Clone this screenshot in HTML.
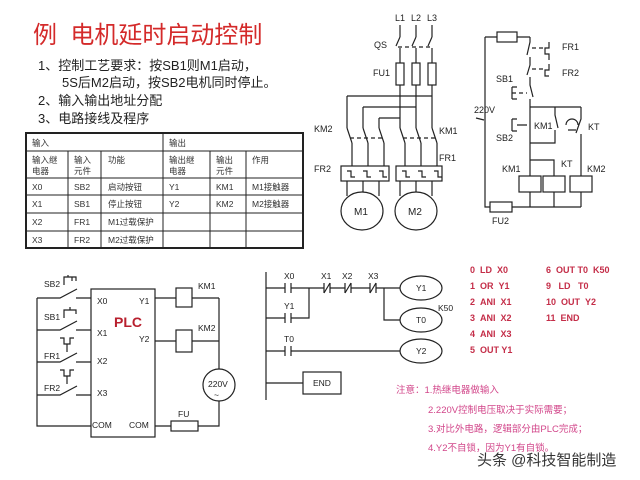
<!DOCTYPE html>
<html><head><meta charset="utf-8"><style>
html,body{margin:0;padding:0;background:#fff;}
svg{display:block;font-family:"Liberation Sans","Noto Sans CJK SC",sans-serif;}
</style></head><body>
<svg width="640" height="480" viewBox="0 0 640 480" xmlns="http://www.w3.org/2000/svg">
<g fill="#222">
<text x="33" y="43" font-size="24" fill="#d42a2a" font-family="Liberation Sans,Noto Sans CJK SC,sans-serif">例 &#160;电机延时启动控制</text>
<text x="38" y="70" font-size="13">1、控制工艺要求：按SB1则M1启动，</text>
<text x="62" y="87" font-size="13">5S后M2启动，按SB2电机同时停止。</text>
<text x="38" y="105" font-size="13">2、输入输出地址分配</text>
<text x="38" y="123" font-size="13">3、电路接线及程序</text>
</g>
<!-- table -->
<g stroke="#222" fill="none" stroke-width="1">
<rect x="26" y="133" width="277" height="115" stroke-width="2"/>
<line x1="26" y1="151" x2="303" y2="151"/><line x1="26" y1="178" x2="303" y2="178"/>
<line x1="26" y1="195" x2="303" y2="195"/><line x1="26" y1="213" x2="303" y2="213"/>
<line x1="26" y1="231" x2="303" y2="231"/>
<line x1="163" y1="133" x2="163" y2="248"/>
<line x1="68" y1="151" x2="68" y2="248"/><line x1="101" y1="151" x2="101" y2="248"/>
<line x1="210" y1="151" x2="210" y2="248"/><line x1="246" y1="151" x2="246" y2="248"/>
</g>
<g font-size="8.5" fill="#333">
<text x="32" y="146">输入</text><text x="169" y="146">输出</text>
<text x="32" y="163">输入继</text><text x="32" y="174">电器</text>
<text x="74" y="163">输入</text><text x="74" y="174">元件</text>
<text x="108" y="163">功能</text>
<text x="169" y="163">输出继</text><text x="169" y="174">电器</text>
<text x="216" y="163">输出</text><text x="216" y="174">元件</text>
<text x="252" y="163">作用</text>
<text x="32" y="190">X0</text><text x="74" y="190">SB2</text><text x="108" y="190">启动按钮</text><text x="169" y="190">Y1</text><text x="216" y="190">KM1</text><text x="252" y="190">M1接触器</text>
<text x="32" y="207">X1</text><text x="74" y="207">SB1</text><text x="108" y="207">停止按钮</text><text x="169" y="207">Y2</text><text x="216" y="207">KM2</text><text x="252" y="207">M2接触器</text>
<text x="32" y="225">X2</text><text x="74" y="225">FR1</text><text x="108" y="225">M1过载保护</text>
<text x="32" y="243">X3</text><text x="74" y="243">FR2</text><text x="108" y="243">M2过载保护</text>
</g>
<!-- main circuit -->
<g stroke="#222" fill="none" stroke-width="1.2">
<path d="M400 25V37 M416 25V37 M432 25V37"/>
<path d="M400 37L396 46 M416 37L412 46 M432 37L428 46"/>
<path d="M400 48V63 M416 48V63 M432 48V63" />
<path d="M398 47H430" stroke-dasharray="4,3"/>
<rect x="396" y="63" width="8" height="22"/><rect x="412" y="63" width="8" height="22"/><rect x="428" y="63" width="8" height="22"/>
<path d="M400 85V128 M416 85V128 M432 85V128"/>
<path d="M347 96H432 M363 107H416 M379 118H400"/>
<path d="M347 96V128 M363 107V128 M379 118V128"/>
<path d="M347 128L352 143 M363 128L368 143 M379 128L384 143 M400 128L405 143 M416 128L421 143 M432 128L437 143"/>
<path d="M350 138H384 M403 138H437" stroke-dasharray="4,3"/>
<path d="M352 143V166 M368 143V166 M384 143V166 M405 143V166 M421 143V166 M437 143V166"/>
<rect x="341" y="166" width="48" height="15"/><rect x="396" y="166" width="46" height="15"/>
<path d="M347 171h4v6h4 M363 171h4v6h4 M379 171h4v6h4 M402 171h4v6h4 M418 171h4v6h4 M434 171h4v6h4"/>
<path d="M347 181V196 M379 181V196 M363 181V192 M400 181V196 M432 181V196 M416 181V192"/>
<ellipse cx="362" cy="211" rx="21" ry="19"/><ellipse cx="416" cy="211" rx="21" ry="19"/>
</g>
<g font-size="9" fill="#222">
<text x="395" y="21">L1</text><text x="411" y="21">L2</text><text x="427" y="21">L3</text>
<text x="374" y="48">QS</text><text x="373" y="76">FU1</text>
<text x="314" y="132">KM2</text><text x="439" y="134">KM1</text>
<text x="314" y="172">FR2</text><text x="439" y="161">FR1</text>
<text x="354" y="215" font-size="10">M1</text><text x="408" y="215" font-size="10">M2</text>
</g>
<!-- control circuit -->
<g stroke="#222" fill="none" stroke-width="1.2">
<path d="M485 37V207H581"/>
<path d="M485 37H497 M517 37H530"/>
<rect x="497" y="32" width="20" height="10"/>
<path d="M530 37V42 L527 55 M530 57V65 L527 75 M530 77V85 L533 97 M530 99V143"/>
<path d="M532 48H545 M532 69H545 M512 93H527" stroke-dasharray="4,3"/>
<path d="M549 42v6h-4v6h4v6 M549 64v6h-4v6h4"/>
<path d="M512 87v12 M512 87h5 M512 99h5"/>
<path d="M512 119v12 M512 119h5 M512 131h5 M517 125h10"/>
<path d="M530 107H581 M555 107V115 L558 128 M555 130V143H530"/>
<path d="M581 107V119 L576 133 M581 134V160"/>
<path d="M566 125 a6 6 0 0 1 12 0 M568 130h8"/>
<path d="M530 143V176 M530 160H554V176 M581 160V176"/>
<rect x="519" y="176" width="22" height="16"/><rect x="543" y="176" width="22" height="16"/><rect x="570" y="176" width="22" height="16"/>
<path d="M530 192V207 M554 192V207 M581 192V207"/>
<rect x="490" y="202" width="22" height="10" fill="#fff"/>
<path d="M476 118l8 2"/>
</g>
<g font-size="9" fill="#222">
<text x="474" y="113">220V</text>
<text x="496" y="82">SB1</text><text x="496" y="141">SB2</text>
<text x="534" y="129">KM1</text><text x="588" y="130">KT</text>
<text x="502" y="172">KM1</text><text x="561" y="167">KT</text><text x="587" y="172">KM2</text>
<text x="562" y="50">FR1</text><text x="562" y="76">FR2</text><text x="492" y="224">FU2</text>
</g>
<!-- PLC wiring -->
<g stroke="#222" fill="none" stroke-width="1.2">
<rect x="91" y="289" width="64" height="148"/>
<path d="M37 298V426H91"/>
<path d="M37 298H60 L77 289 M76 298H91"/>
<path d="M37 330H60 L77 321 M76 330H91"/>
<path d="M37 362H60 L77 353 M76 362H91"/>
<path d="M37 395H60 L77 386 M76 395H91"/>
<path d="M64 285v-8h8v4 M72 277h4v4 M68 277v-2"/>
<path d="M64 318v-8h12v4 M70 310v-3"/>
<path d="M60 338h4v6h6v-6h4 M67 344v8"/>
<path d="M60 370h4v6h6v-6h4 M67 376v8"/>
<path d="M155 298H176 M192 298H219 M155 341H176 M192 341H219 M219 298V369 M219 401V426H198 M171 426H155"/>
<rect x="176" y="288" width="16" height="19"/><rect x="176" y="330" width="16" height="22"/>
<circle cx="219" cy="385" r="16"/>
<rect x="171" y="421" width="27" height="10"/>
</g>
<g font-size="8.5" fill="#222">
<text x="44" y="287">SB2</text><text x="44" y="320">SB1</text><text x="44" y="359">FR1</text><text x="44" y="391">FR2</text>
<text x="97" y="304">X0</text><text x="97" y="336">X1</text><text x="97" y="364">X2</text><text x="97" y="396">X3</text>
<text x="92" y="428">COM</text><text x="129" y="428">COM</text>
<text x="139" y="304">Y1</text><text x="139" y="342">Y2</text>
<text x="198" y="289">KM1</text><text x="198" y="331">KM2</text>
<text x="208" y="387">220V</text><text x="214" y="398">~</text>
<text x="178" y="417">FU</text>
<text x="114" y="327" font-size="14" font-weight="bold" fill="#b8202e">PLC</text>
</g>
<!-- ladder -->
<g stroke="#222" fill="none" stroke-width="1.2">
<path d="M266 272V400"/>
<path d="M266 288H285 M291 288H324 M330 288H345 M351 288H370 M376 288H400"/>
<path d="M285 283v10 M291 283v10 M324 283v10 M330 283v10 M345 283v10 M351 283v10 M370 283v10 M376 283v10"/>
<path d="M324 293L330 283 M345 293L351 283 M370 293L376 283"/>
<path d="M309 288V318H291 M285 318H266 M285 313v10 M291 313v10"/>
<path d="M384 288V320H400"/>
<ellipse cx="421" cy="288" rx="21" ry="12"/><ellipse cx="421" cy="320" rx="21" ry="12"/><ellipse cx="421" cy="351" rx="21" ry="12"/>
<path d="M266 351H285 M291 351H400 M285 346v10 M291 346v10"/>
<path d="M266 383H303"/>
<rect x="303" y="372" width="38" height="22"/>
</g>
<g font-size="8.5" fill="#222">
<text x="284" y="279">X0</text><text x="321" y="279">X1</text><text x="342" y="279">X2</text><text x="368" y="279">X3</text>
<text x="284" y="309">Y1</text><text x="284" y="342">T0</text>
<text x="416" y="291">Y1</text><text x="416" y="323">T0</text><text x="416" y="354">Y2</text>
<text x="438" y="311">K50</text><text x="313" y="386">END</text>
</g>
<g font-size="9" font-weight="bold" fill="#c42d48">
<text x="470" y="273">0 &#160;LD &#160;X0</text>
<text x="470" y="289">1 &#160;OR &#160;Y1</text>
<text x="470" y="305">2 &#160;ANI &#160;X1</text>
<text x="470" y="321">3 &#160;ANI &#160;X2</text>
<text x="470" y="337">4 &#160;ANI &#160;X3</text>
<text x="470" y="353">5 &#160;OUT Y1</text>
<text x="546" y="273">6 &#160;OUT T0 &#160;K50</text>
<text x="546" y="289">9 &#160;&#160;LD &#160;&#160;T0</text>
<text x="546" y="305">10 &#160;OUT &#160;Y2</text>
<text x="546" y="321">11 &#160;END</text>
</g>
<g font-size="9.5" fill="#d2468a">
<text x="396" y="393">注意：1.热继电器做输入</text>
<text x="428" y="413">2.220V控制电压取决于实际需要；</text>
<text x="428" y="432">3.对比外电路，逻辑部分由PLC完成；</text>
<text x="428" y="451">4.Y2不自锁，因为Y1有自锁。</text>
</g>
<text x="477" y="465" font-size="15" fill="#333">头条 @科技智能制造</text>
</svg>
</body></html>
